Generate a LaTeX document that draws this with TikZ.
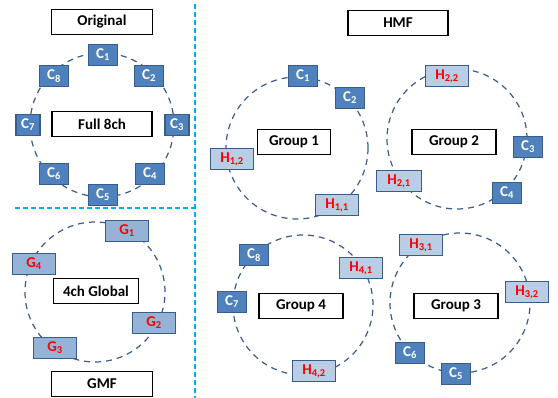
\documentclass[tikz,border=0pt]{standalone}
\usepackage{fontspec}
\setmainfont{Carlito}
\definecolor{chfill}{HTML}{4F81BD}
\definecolor{chedge}{HTML}{385D8A}
\definecolor{hfill}{HTML}{B9CDE5}
\definecolor{gfill}{HTML}{95B3D7}
\definecolor{sepcol}{HTML}{00B0F0}

\tikzset{
  chan/.style={draw=chedge, fill=chfill, line width=1.3pt, text=white, minimum width=29pt, minimum height=21pt, inner sep=0pt},
  narrow/.style={minimum width=24pt},
  mixed/.style={draw=chedge, fill=hfill, line width=1.3pt, text=red, minimum width=43pt, minimum height=21pt, inner sep=0pt},
  global/.style={mixed, fill=gfill},
  title/.style={draw, fill=white, line width=1.2pt, minimum height=25pt, inner sep=0pt},
  ring/.style={draw=chedge, line width=1.2pt, dash pattern=on 6pt off 5pt},
  divider/.style={draw=sepcol, line width=1.6pt, dash pattern=on 5pt off 3pt}
}

\begin{document}
\begin{tikzpicture}[x=1pt, y=-1pt, font=\fontsize{15}{17}\selectfont\bfseries]
    \useasboundingbox (0,0) rectangle (558,398);

    % Trennlinien
    \draw[divider] (195,4) -- (195,398);
    \draw[divider] (15,208) -- (195,208);

    % Original
    \draw[ring] (102,125) circle (72pt);
    \node[title, minimum width=101pt] (orig) at (102,22) {Original};
    \node[title, minimum width=100pt] (full) at (102,124) {Full 8ch};
    \node[chan] (oc1) at (103,55) {C\textsubscript{1}};
    \node[chan] (oc2) at (149,76) {C\textsubscript{2}};
    \node[chan, narrow] (oc3) at (177,125) {C\textsubscript{3}};
    \node[chan] (oc4) at (150,174) {C\textsubscript{4}};
    \node[chan] (oc5) at (103,195) {C\textsubscript{5}};
    \node[chan] (oc6) at (54,174) {C\textsubscript{6}};
    \node[chan, narrow] (oc7) at (28,125) {C\textsubscript{7}};
    \node[chan] (oc8) at (54,76) {C\textsubscript{8}};

    % GMF
    \draw[ring] (95,292) circle (70pt);
    \node[title, minimum width=85pt] (glob) at (96,291) {4ch Global};
    \node[title, minimum width=101pt] (gmf) at (102,384) {GMF};
    \node[global] (g1) at (127,231) {G\textsubscript{1}};
    \node[global] (g2) at (154,323) {G\textsubscript{2}};
    \node[global] (g3) at (55,348) {G\textsubscript{3}};
    \node[global] (g4) at (34,264) {G\textsubscript{4}};

    % HMF
    \node[title, minimum width=100pt] (hmf) at (398,23) {HMF};

    % Gruppe 1 und 2
    \draw[ring] (297,148) circle (71pt);
    \draw[ring] (457,139) circle (70pt);
    \node[title, minimum width=73pt] (grp1) at (294,142) {Group 1};
    \node[title, minimum width=84pt] (grp2) at (454,142) {Group 2};
    \node[chan] (hc1) at (303,76) {C\textsubscript{1}};
    \node[chan] (hc2) at (350,98) {C\textsubscript{2}};
    \node[mixed] (h12) at (232,159) {H\textsubscript{1,2}};
    \node[mixed] (h11) at (337,205) {H\textsubscript{1,1}};
    \node[mixed] (h22) at (447,76) {H\textsubscript{2,2}};
    \node[mixed, minimum width=45pt] (h21) at (399,181) {H\textsubscript{2,1}};
    \node[chan] (hc3) at (528,147) {C\textsubscript{3}};
    \node[chan] (hc4) at (507,193) {C\textsubscript{4}};

    % Gruppe 4 und 3
    \draw[ring] (303,305) circle (70pt);
    \draw[ring] (460,303) circle (70pt);
    \node[title, minimum width=84pt] (grp4) at (301,306) {Group 4};
    \node[title, minimum width=84pt] (grp3) at (456,306) {Group 3};
    \node[chan] (hc8) at (254,255) {C\textsubscript{8}};
    \node[chan] (hc7) at (232,302) {C\textsubscript{7}};
    \node[mixed] (h41) at (361,268) {H\textsubscript{4,1}};
    \node[mixed] (h42) at (314,371) {H\textsubscript{4,2}};
    \node[mixed] (h31) at (421,245) {H\textsubscript{3,1}};
    \node[mixed] (h32) at (527,292) {H\textsubscript{3,2}};
    \node[chan] (hc6) at (410,353) {C\textsubscript{6}};
    \node[chan] (hc5) at (456,374) {C\textsubscript{5}};
\end{tikzpicture}
\end{document}
